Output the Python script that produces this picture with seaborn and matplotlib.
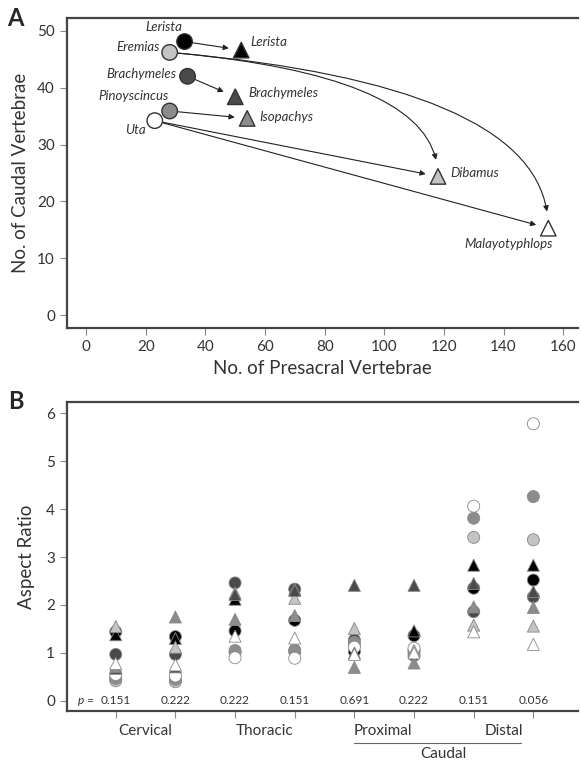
import numpy as np
import pandas as pd
import matplotlib.pyplot as plt
import seaborn as sns

sns.set_style('ticks')
plt.rcParams['font.family'] = ['Lato', 'DejaVu Sans']

# ---------------- Panel A data ----------------
anc_taxa = ['Lerista', 'Eremias', 'Brachymeles', 'Pinoyscincus', 'Uta']
anc_presacral = [33, 28, 34, 28, 23]
anc_caudal = [48.1, 46.2, 42.0, 35.9, 34.2]

der_taxa = ['Lerista', 'Dibamus', 'Brachymeles', 'Isopachys', 'Malayotyphlops']
der_presacral = [52, 118, 50, 54, 155]
der_caudal = [46.6, 24.4, 38.4, 34.6, 15.3]

shades = ['#000000', '#c4c4c4', '#4a4a4a', '#8c8c8c', '#ffffff']

# (ancestor index, derived index, curved?)
transitions = [(0, 0, False), (2, 2, False), (3, 3, False),
               (4, 1, False), (4, 4, False), (1, 1, True), (1, 4, True)]

# ---------------- Panel B data ----------------
p_values = ['0.151', '0.222', '0.222', '0.151', '0.691', '0.222', '0.151', '0.056']
regions = ['Cervical', 'Thoracic', 'Proximal', 'Distal']

circ_ratio = {
    'Lerista':      [1.44, 1.34, 1.46, 1.68, 1.03, 1.36, 2.35, 2.52],
    'Eremias':      [0.42, 0.40, 1.00, 1.02, 1.15, 1.06, 3.41, 3.36],
    'Brachymeles':  [0.97, 0.97, 2.46, 2.33, 1.27, 0.95, 1.86, 2.17],
    'Pinoyscincus': [0.47, 0.45, 1.05, 1.06, 1.22, 1.02, 3.81, 4.26],
    'Uta':          [0.55, 0.52, 0.90, 0.89, 1.12, 1.10, 4.06, 5.78],
}
tri_ratio = {
    'Lerista':        [1.38, 1.30, 2.12, 2.33, 1.00, 1.46, 2.83, 2.83],
    'Dibamus':        [1.55, 1.12, 2.25, 2.14, 1.51, 1.05, 1.58, 1.56],
    'Brachymeles':    [0.68, 0.71, 2.22, 2.30, 2.41, 2.41, 2.45, 2.28],
    'Isopachys':      [0.72, 1.75, 1.70, 1.78, 0.70, 0.79, 1.96, 1.95],
    'Malayotyphlops': [0.78, 0.75, 1.35, 1.31, 0.97, 1.00, 1.44, 1.18],
}

spine_col = '#444444'
text_col = '#333333'

fig = plt.figure(figsize=(5.81, 7.60), dpi=100)
axA = fig.add_axes([0.115, 0.568, 0.880, 0.408])
axB = fig.add_axes([0.115, 0.0645, 0.880, 0.407])

# ---------------- Panel A ----------------
rows = []
for i in range(5):
    rows.append({'x': anc_presacral[i], 'y': anc_caudal[i], 'shade': shades[i], 'shape': 'circle'})
    rows.append({'x': der_presacral[i], 'y': der_caudal[i], 'shade': shades[i], 'shape': 'triangle'})
dfa = pd.DataFrame(rows)
sns.scatterplot(data=dfa, x='x', y='y', hue='shade', palette={c: c for c in shades},
                style='shape', markers={'circle': 'o', 'triangle': '^'},
                s=125, edgecolor='#333333', linewidth=1.0, legend=False, ax=axA, zorder=3)

for a, d, curved in transitions:
    cs = 'angle3,angleA=-5,angleB=90' if curved else 'arc3,rad=0'
    axA.annotate('', xy=(der_presacral[d], der_caudal[d]),
                 xytext=(anc_presacral[a], anc_caudal[a]),
                 arrowprops=dict(arrowstyle='-|>', color='#222222', lw=0.8,
                                 mutation_scale=8, shrinkA=6,
                                 shrinkB=12 if curved else 9,
                                 connectionstyle=cs), zorder=2)

lab_kw = dict(style='italic', fontsize=9.5, color=text_col)
axA.text(26, 50.6, 'Lerista', ha='center', va='center', **lab_kw)
axA.text(24.5, 47.1, 'Eremias', ha='right', va='center', **lab_kw)
axA.text(30.3, 42.4, 'Brachymeles', ha='right', va='center', **lab_kw)
axA.text(27.8, 38.5, 'Pinoyscincus', ha='right', va='center', **lab_kw)
axA.text(16.5, 32.6, 'Uta', ha='center', va='center', **lab_kw)
axA.text(55, 48.1, 'Lerista', ha='left', va='center', **lab_kw)
axA.text(54.5, 39.0, 'Brachymeles', ha='left', va='center', **lab_kw)
axA.text(58, 34.8, 'Isopachys', ha='left', va='center', **lab_kw)
axA.text(122, 25.0, 'Dibamus', ha='left', va='center', **lab_kw)
axA.text(141.5, 12.6, 'Malayotyphlops', ha='center', va='center', **lab_kw)

axA.set_xlim(-6.5, 165)
axA.set_ylim(-2.3, 52.2)
axA.set_xticks(range(0, 161, 20))
axA.set_yticks(range(0, 51, 10))
axA.set_xlabel('No. of Presacral Vertebrae', fontsize=13.5, color=text_col, labelpad=4)
axA.set_ylabel('No. of Caudal Vertebrae', fontsize=13.5, color=text_col, labelpad=6)
axA.text(-0.1, 1.0, 'A', transform=axA.transAxes, fontsize=17, fontweight='bold',
         ha='center', va='center')

# ---------------- Panel B ----------------
rows = []
for i, (name, vals) in enumerate(circ_ratio.items()):
    for j, v in enumerate(vals):
        rows.append({'x': j, 'y': v, 'shade': shades[i], 'shape': 'circle'})
for i, (name, vals) in enumerate(tri_ratio.items()):
    for j, v in enumerate(vals):
        rows.append({'x': j, 'y': v, 'shade': shades[i], 'shape': 'triangle'})
dfb = pd.DataFrame(rows)
sns.scatterplot(data=dfb, x='x', y='y', hue='shade', palette={c: c for c in shades},
                style='shape', markers={'circle': 'o', 'triangle': '^'},
                s=75, edgecolor='#888888', linewidth=0.6, legend=False, ax=axB, zorder=3)

for j, p in enumerate(p_values):
    axB.text(j, 0, p, ha='center', va='center', fontsize=8.5, color=text_col)
axB.text(-0.36, 0, 'p =', ha='right', va='center', fontsize=8.5, style='italic', color=text_col)

axB.set_xlim(-0.82, 7.75)
axB.set_ylim(-0.21, 6.24)
axB.set_xticks(range(8))
axB.set_xticklabels([])
axB.set_yticks(range(0, 7))
axB.set_xlabel('')
axB.set_ylabel('Aspect Ratio', fontsize=13.5, color=text_col, labelpad=8)

tr = axB.get_xaxis_transform()
for k, reg in enumerate(regions):
    xc = [0.5, 2.5, 4.48, 6.5][k]
    axB.text(xc, -0.064, reg, transform=tr, ha='center', va='center',
             fontsize=11, color=text_col, clip_on=False)
axB.plot([4.0, 6.8], [-0.103, -0.103], transform=tr, color='#666666', lw=0.8, clip_on=False)
axB.text(5.5, -0.139, 'Caudal', transform=tr, ha='center', va='center',
         fontsize=11, color=text_col, clip_on=False)
axB.text(-0.1, 1.0, 'B', transform=axB.transAxes, fontsize=17, fontweight='bold',
         ha='center', va='center')

for ax in (axA, axB):
    for side in ('left', 'bottom', 'top'):
        ax.spines[side].set_color(spine_col)
        ax.spines[side].set_linewidth(1.6)
    ax.spines['right'].set_visible(False)
    ax.tick_params(axis='both', direction='out', length=5, width=0.8,
                   color='#888888', labelcolor=text_col, labelsize=11)

fig.savefig('out.png', dpi=100)
